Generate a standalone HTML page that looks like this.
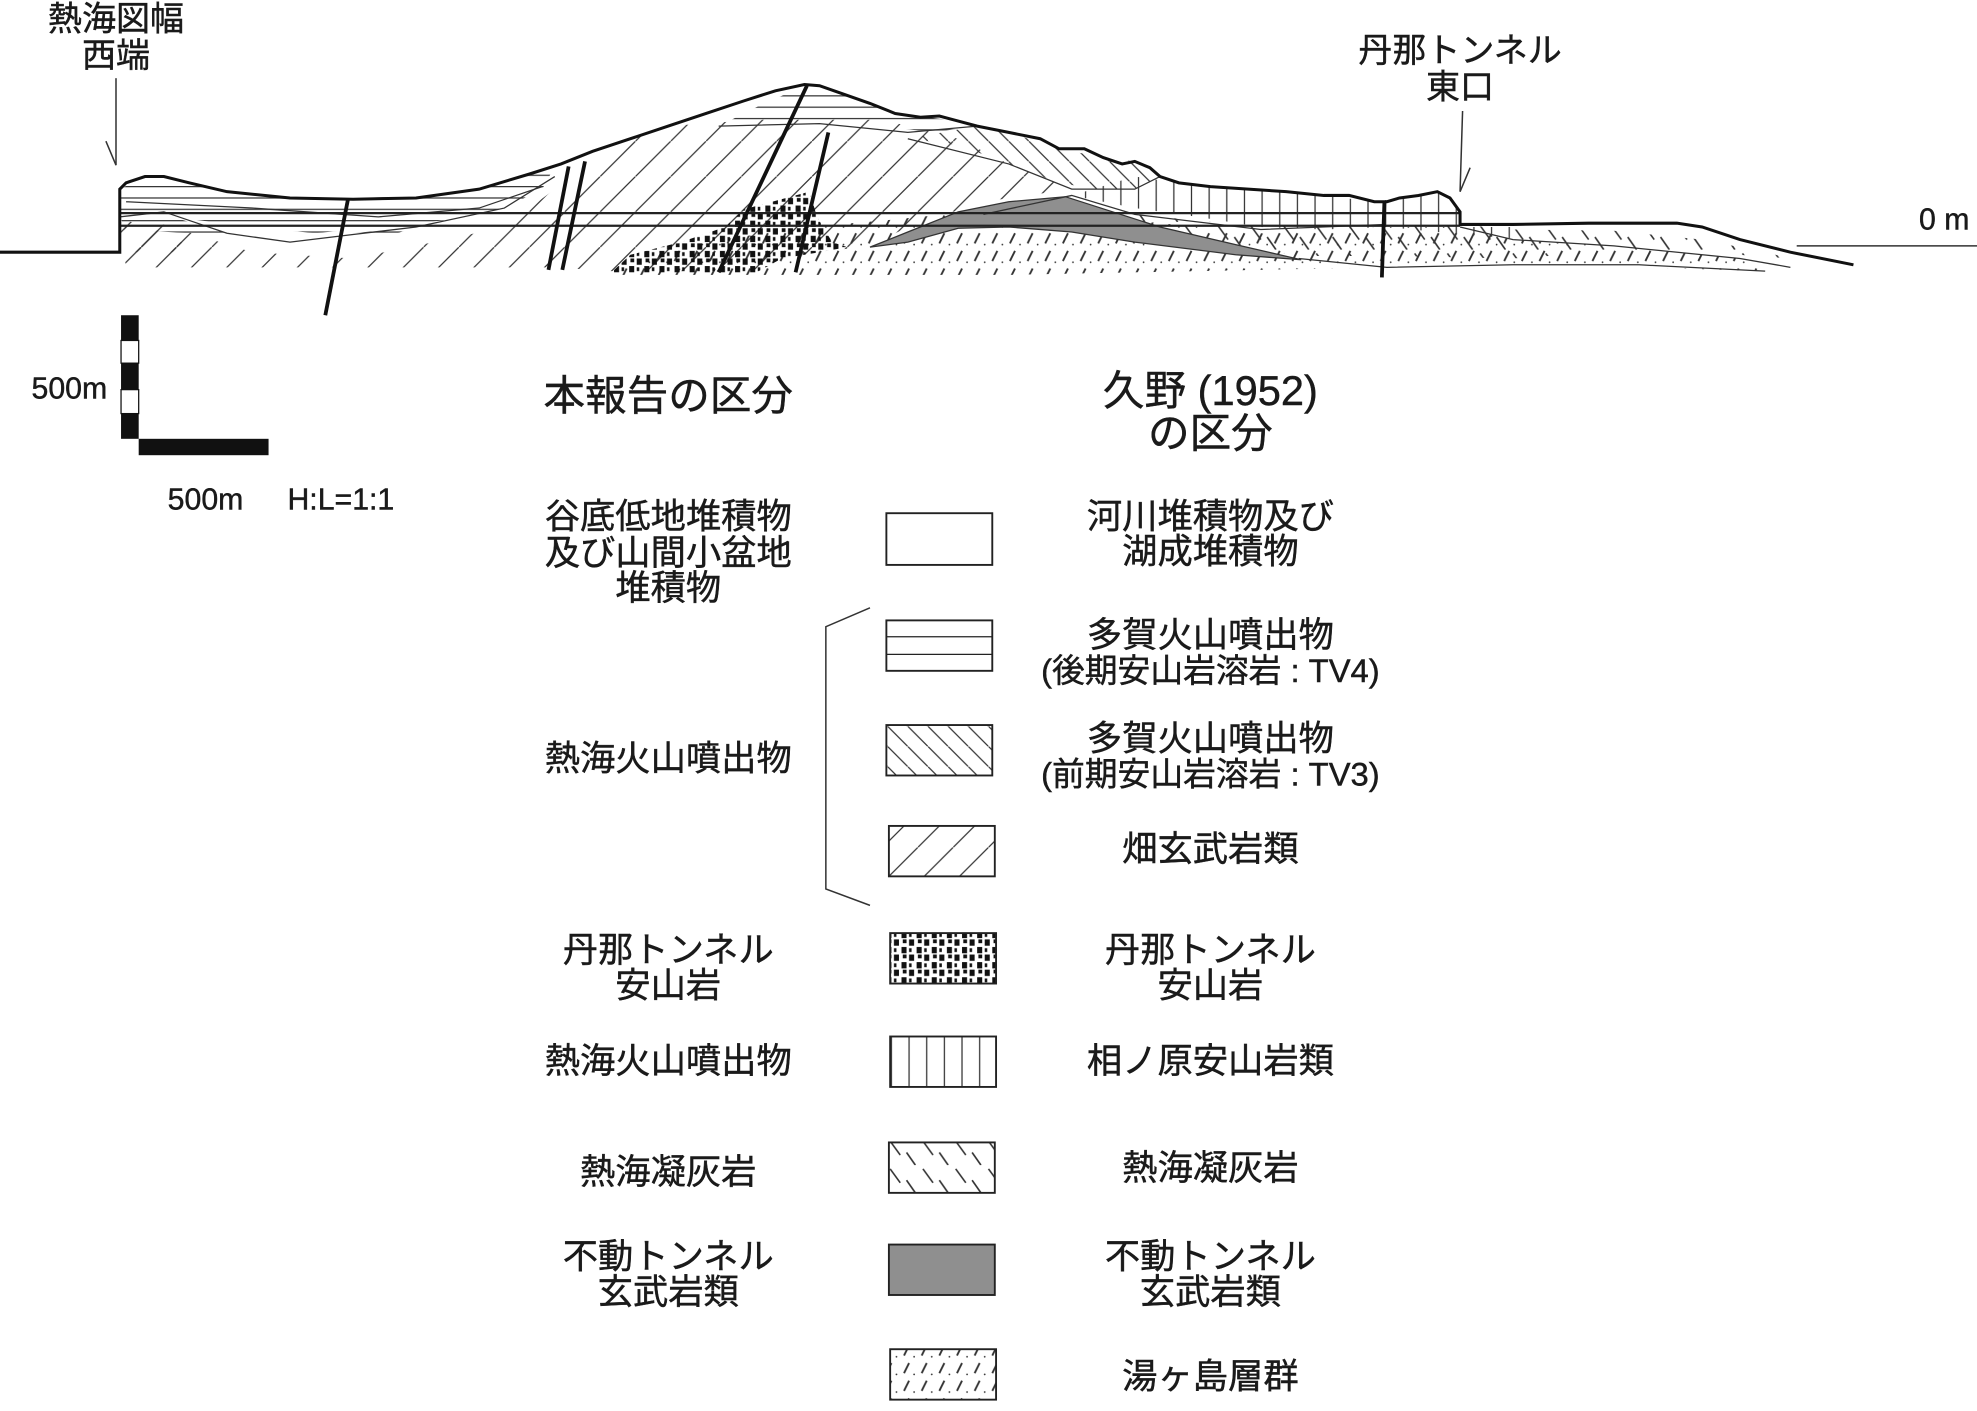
<!DOCTYPE html>
<html><head><meta charset="utf-8"><style>
html,body{margin:0;padding:0;background:#fff;}
svg{display:block;}
text{font-family:"Liberation Sans","Noto Sans CJK JP",sans-serif;fill:#1a1a1a;stroke:#1a1a1a;stroke-width:0.35;}
</style></head><body>
<svg width="1977" height="1411" viewBox="0 0 1568 1119" preserveAspectRatio="none" xmlns="http://www.w3.org/2000/svg">
<defs>
<pattern id="hor" width="20" height="9" patternUnits="userSpaceOnUse"><line x1="0" y1="4" x2="20" y2="4" stroke="#333" stroke-width="1"/></pattern>
<pattern id="fwd" width="28" height="28" patternUnits="userSpaceOnUse"><line x1="0" y1="28" x2="28" y2="0" stroke="#333" stroke-width="1"/></pattern>
<pattern id="bwd" width="16" height="16" patternUnits="userSpaceOnUse"><line x1="0" y1="0" x2="16" y2="16" stroke="#333" stroke-width="1"/></pattern>
<pattern id="ver" width="14" height="14" patternUnits="userSpaceOnUse"><line x1="7" y1="0" x2="7" y2="14" stroke="#333" stroke-width="1"/></pattern>
<pattern id="tuff" width="26" height="22" patternUnits="userSpaceOnUse"><line x1="4" y1="3" x2="12" y2="14" stroke="#333" stroke-width="1.3"/><line x1="17" y1="12" x2="24" y2="22" stroke="#333" stroke-width="1.3"/></pattern>
<pattern id="yuga" width="14" height="14" patternUnits="userSpaceOnUse"><line x1="3" y1="11" x2="7" y2="3" stroke="#333" stroke-width="1.5"/><circle cx="11" cy="12" r="0.7" fill="#333"/></pattern>
<pattern id="dots" width="12" height="12" patternUnits="userSpaceOnUse"><rect x="1" y="1" width="4" height="5" fill="#111"/><rect x="7" y="7" width="4" height="5" fill="#111"/><rect x="8" y="1" width="3" height="3" fill="#111"/><rect x="1" y="8" width="2" height="3" fill="#111"/></pattern>
</defs>

<!-- title labels -->
<text x="92" y="24" font-size="27" text-anchor="middle">熱海図幅</text>
<text x="92" y="53" font-size="27" text-anchor="middle">西端</text>
<line x1="92" y1="62" x2="92" y2="131" stroke="#333" stroke-width="1.2"/>
<line x1="84" y1="112" x2="92" y2="131" stroke="#333" stroke-width="1.2"/>
<text x="1158" y="49" font-size="27" text-anchor="middle">丹那トンネル</text>
<text x="1158" y="78" font-size="27" text-anchor="middle">東口</text>
<line x1="1160" y1="88" x2="1158" y2="152" stroke="#333" stroke-width="1.2"/>
<line x1="1166" y1="133" x2="1158" y2="152" stroke="#333" stroke-width="1.2"/>
<text x="1542" y="182" font-size="24" text-anchor="middle">0 m</text>
<line x1="1425" y1="195" x2="1568" y2="195" stroke="#333" stroke-width="1.2"/>

<!-- lower Yugashima -->
<path d="M485,216 L540,195 L640,180 L700,175 L800,165 L900,175 L1000,185 L1100,180 L1158,180 L1200,190 L1280,195 L1380,205 L1400,215 L1300,212 L1200,210 L1100,212 L800,218 L485,218 Z" fill="url(#yuga)"/>
<path d="M780,170 L850,160 L900,170 L1000,180 L1098,178 L1158,178 L1200,182 L1280,183 L1350,190 L1400,200 L1420,205 L1350,200 L1270,200 L1200,205 L1100,203 L1030,203 L960,190 L900,180 L850,170 Z" fill="url(#tuff)"/>
<path d="M95,180 L130,178 L200,200 L280,205 L330,195 L400,180 L440,150 L470,120 L530,100 L600,95 L700,95 L760,110 L800,130 L850,150 L780,160 L720,180 L690,195 L650,200 L620,205 L600,215 L485,215 L440,212 L260,212 L100,212 Z" fill="url(#fwd)"/>
<path d="M95,200 L100,175 L120,180 L140,190 L160,200 Z" fill="url(#fwd)"/>
<path d="M95,150 L115,140 L130,140 L180,152 L280,158 L380,150 L440,132 L430,150 L400,165 L350,175 L300,180 L250,185 L200,180 L160,175 L120,170 L95,172 Z" fill="url(#hor)"/>
<path d="M95,172 L130,170 L180,185 L230,190 L280,185 L330,180 L300,190 L250,192 L200,190 L150,185 L100,182 Z" fill="url(#hor)"/>
<path d="M570,100 L600,85 L640,67 L670,75 L710,90 L760,96 L775,100 L740,105 L700,100 L650,98 L600,100 Z" fill="url(#hor)"/>
<path d="M720,110 L775,100 L800,105 L840,118 L875,125 L900,128 L920,140 L900,150 L870,150 L840,145 L800,130 L760,115 Z" fill="url(#bwd)"/>
<path d="M850,155 L900,140 L935,145 L990,150 L1050,155 L1090,160 L1110,157 L1140,152 L1150,157 L1158,168 L1158,180 L1200,180 L1210,190 L1150,185 L1100,180 L1050,182 L1000,180 L950,172 L900,165 Z" fill="url(#ver)"/>
<path d="M485,216 L500,202 L540,192 L575,180 L590,166 L642,152 L648,172 L660,192 L672,196 L650,200 L620,205 L600,216 Z" fill="url(#dots)"/>
<path d="M690,196 L720,184 L760,168 L800,160 L845,156 L870,164 L920,180 L980,194 L1032,206 L980,202 L900,192 L850,184 L800,180 L760,181 L720,192 Z" fill="#8f8f8f" stroke="#333" stroke-width="1"/>

<g fill="none" stroke="#333" stroke-width="1">
<path d="M95,172 L130,168 L180,185 L230,192 L280,186 L330,180 L400,165 L440,140"/>
<path d="M100,160 L200,165 L300,172 L380,165 L430,148"/>
<path d="M570,100 L650,98 L720,105 L775,100"/>
<path d="M720,110 L800,130 L850,150 L900,150 L920,140"/>
<path d="M780,170 L850,155 L900,170 L1000,182 L1098,178"/>
<path d="M1158,180 L1200,190 L1280,195 L1380,205 L1420,212"/>
<path d="M1030,205 L1100,212 L1200,210 L1300,210 L1400,215"/>
</g>
<line x1="95" y1="169" x2="1158" y2="169" stroke="#222" stroke-width="1.8"/>
<line x1="95" y1="179" x2="1158" y2="179" stroke="#222" stroke-width="1.8"/>
<path d="M0,200 L95,200 L95,150 L100,145 L115,140 L130,140 L150,145 L180,152 L230,157 L280,158 L330,157 L380,150 L420,138 L445,130 L470,120 L500,110 L530,100 L560,90 L590,80 L615,72 L638,67 L650,68 L670,75 L690,82 L710,90 L730,93 L745,92 L760,96 L775,100 L800,105 L825,110 L840,118 L860,118 L875,125 L890,130 L900,128 L912,133 L920,140 L935,145 L960,148 L990,150 L1020,152 L1050,155 L1070,155 L1090,160 L1100,160 L1110,157 L1125,155 L1140,152 L1150,157 L1158,168 L1158,178 L1200,178 L1260,177 L1330,177 L1350,180 L1380,190 L1420,200 L1470,210" fill="none" stroke="#111" stroke-width="2.4"/>
<g stroke="#111" stroke-width="3" fill="none">
<line x1="276" y1="158" x2="258" y2="250"/>
<line x1="451" y1="132" x2="435" y2="214"/>
<line x1="464" y1="128" x2="446" y2="214"/>
<line x1="640" y1="68" x2="570" y2="216"/>
<line x1="657" y1="105" x2="631" y2="216"/>
<line x1="1098" y1="160" x2="1096" y2="220"/>
</g>

<!-- scale bar -->
<rect x="96" y="250" width="14" height="20" fill="#111"/>
<rect x="96" y="270" width="14" height="18" fill="#fff" stroke="#111" stroke-width="1"/>
<rect x="96" y="288" width="14" height="21" fill="#111"/>
<rect x="96" y="309" width="14" height="19" fill="#fff" stroke="#111" stroke-width="1"/>
<rect x="96" y="328" width="14" height="20" fill="#111"/>
<rect x="110" y="348" width="103" height="13" fill="#111"/>
<text x="55" y="316" font-size="24" text-anchor="middle">500m</text>
<text x="133" y="404" font-size="24">500m</text>
<text x="228" y="404" font-size="24">H:L=1:1</text>

<g font-size="33" text-anchor="middle">
<text x="530" y="325">本報告の区分</text>
<text x="960" y="321">久野 (1952)</text>
<text x="960" y="355">の区分</text>
</g>
<g font-size="28" text-anchor="middle">
<text x="530" y="419">谷底低地堆積物</text>
<text x="530" y="448">及び山間小盆地</text>
<text x="530" y="476">堆積物</text>
<text x="530" y="611">熱海火山噴出物</text>
<text x="530" y="763">丹那トンネル</text>
<text x="530" y="791">安山岩</text>
<text x="530" y="851">熱海火山噴出物</text>
<text x="530" y="939">熱海凝灰岩</text>
<text x="530" y="1006">不動トンネル</text>
<text x="530" y="1034">玄武岩類</text>

<text x="960" y="419">河川堆積物及び</text>
<text x="960" y="447">湖成堆積物</text>
<text x="960" y="513">多賀火山噴出物</text>
<text x="960" y="541" font-size="26">(後期安山岩溶岩 : TV4)</text>
<text x="960" y="595">多賀火山噴出物</text>
<text x="960" y="623" font-size="26">(前期安山岩溶岩 : TV3)</text>
<text x="960" y="683">畑玄武岩類</text>
<text x="960" y="763">丹那トンネル</text>
<text x="960" y="791">安山岩</text>
<text x="960" y="851">相ノ原安山岩類</text>
<text x="960" y="936">熱海凝灰岩</text>
<text x="960" y="1006">不動トンネル</text>
<text x="960" y="1034">玄武岩類</text>
<text x="960" y="1101">湯ヶ島層群</text>
</g>

<path d="M690,482 L655,497 L655,705 L690,718" fill="none" stroke="#333" stroke-width="1.2"/>

<g stroke="#222" stroke-width="1.5">
<rect x="703" y="407" width="84" height="41" fill="#fff"/>
<rect x="703" y="492" width="84" height="40" fill="#fff"/>
<rect x="703" y="575" width="84" height="40" fill="url(#bwd)"/>
<rect x="705" y="655" width="84" height="40" fill="url(#fwd)"/>
<rect x="706" y="740" width="84" height="40" fill="url(#dots)"/>
<rect x="706" y="822" width="84" height="40" fill="url(#ver)"/>
<rect x="705" y="906" width="84" height="40" fill="url(#tuff)"/>
<rect x="705" y="987" width="84" height="40" fill="#8f8f8f"/>
<rect x="706" y="1070" width="84" height="40" fill="url(#yuga)"/>
</g>
<line x1="703" y1="505" x2="787" y2="505" stroke="#222" stroke-width="1"/>
<line x1="703" y1="519" x2="787" y2="519" stroke="#222" stroke-width="1"/>
</svg>
</body></html>
